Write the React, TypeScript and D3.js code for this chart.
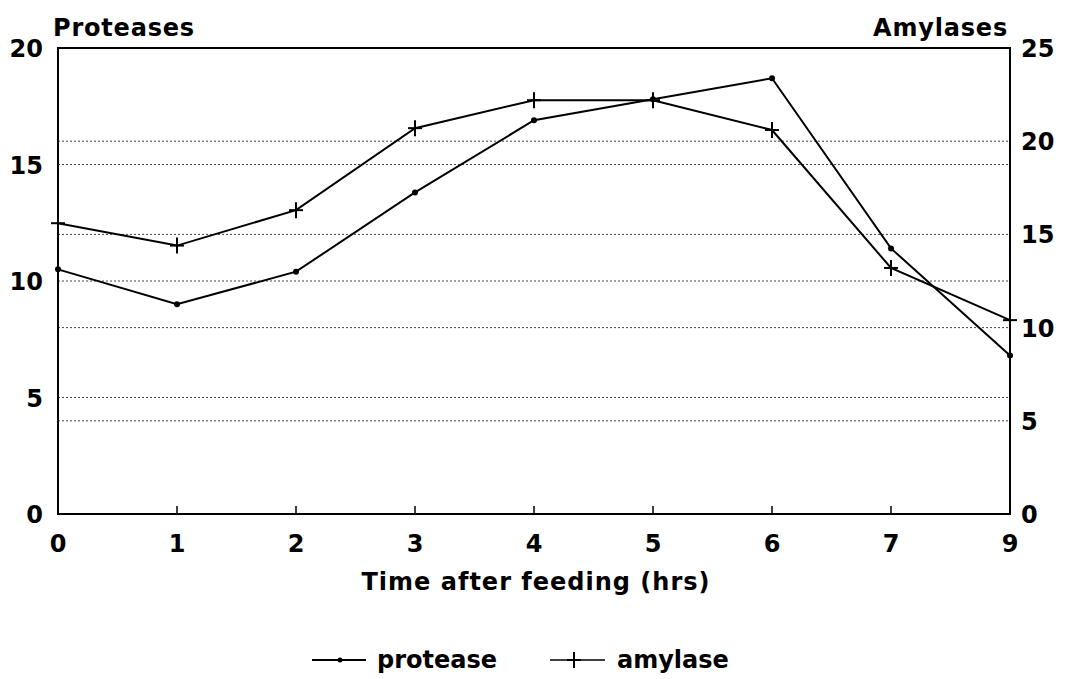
import React from "react";
import * as d3 from "d3";

const categories = ["0", "1", "2", "3", "4", "5", "6", "7", "9"];
const protease = [10.5, 9.0, 10.4, 13.8, 16.9, 17.8, 18.7, 11.4, 6.8];
const amylase = [15.6, 14.4, 16.3, 20.7, 22.2, 22.2, 20.6, 13.2, 10.4];
const leftTicks = [0, 5, 10, 15, 20];
const rightTicks = [0, 5, 10, 15, 20, 25];

const W = 1065;
const H = 679;
const M = { left: 58, right: 1010, top: 48, bottom: 514 };
const FONT = "'DejaVu Sans', 'Liberation Sans', Arial, sans-serif";

export default function App() {
  const x = d3.scalePoint<string>().domain(categories).range([M.left, M.right]);
  const yL = d3.scaleLinear().domain([0, 20]).range([M.bottom, M.top]);
  const yR = d3.scaleLinear().domain([0, 25]).range([M.bottom, M.top]);
  const lineL = d3
    .line<number>()
    .x((_, i) => x(categories[i]) as number)
    .y((d) => yL(d));
  const lineR = d3
    .line<number>()
    .x((_, i) => x(categories[i]) as number)
    .y((d) => yR(d));

  const plus = (cx: number, cy: number, k: string) => (
    <g key={k} stroke="#000" strokeWidth={2}>
      <line x1={cx - 7} x2={cx + 7} y1={cy} y2={cy} />
      <line x1={cx} x2={cx} y1={cy - 8} y2={cy + 8} />
    </g>
  );

  return (
    <svg
      width={W}
      height={H}
      style={{ position: "absolute", left: 0, top: 0, background: "#fff" }}
      fontFamily={FONT}
      fontWeight="bold"
    >
      {leftTicks
        .filter((t) => t > 0 && t < 20)
        .map((t) => (
          <line
            key={"gl" + t}
            x1={M.left}
            x2={M.right}
            y1={yL(t)}
            y2={yL(t)}
            stroke="#444"
            strokeWidth={1}
            strokeDasharray="2,2"
          />
        ))}
      {rightTicks
        .filter((t) => t > 0 && t < 25)
        .map((t) => (
          <line
            key={"gr" + t}
            x1={M.left}
            x2={M.right}
            y1={yR(t)}
            y2={yR(t)}
            stroke="#444"
            strokeWidth={1}
            strokeDasharray="2,2"
          />
        ))}
      <rect
        x={M.left}
        y={M.top}
        width={M.right - M.left}
        height={M.bottom - M.top}
        fill="none"
        stroke="#000"
        strokeWidth={2}
      />
      {categories.map((c) => (
        <g key={"xt" + c}>
          <line
            x1={x(c) as number}
            x2={x(c) as number}
            y1={M.bottom}
            y2={M.bottom - 8}
            stroke="#000"
            strokeWidth={1.5}
          />
          <text x={x(c) as number} y={M.bottom + 38} textAnchor="middle" fontSize={24}>
            {c}
          </text>
        </g>
      ))}
      {leftTicks.map((t) => (
        <text key={"lt" + t} x={M.left - 15} y={yL(t) + 9} textAnchor="end" fontSize={24}>
          {t}
        </text>
      ))}
      {rightTicks.map((t) => (
        <text key={"rt" + t} x={M.right + 11} y={yR(t) + 9} textAnchor="start" fontSize={24}>
          {t}
        </text>
      ))}
      <text x={53} y={36} fontSize={24} letterSpacing={0.8}>
        Proteases
      </text>
      <text x={1008} y={36} fontSize={24} letterSpacing={0.8} textAnchor="end">
        Amylases
      </text>
      <text x={536} y={590} fontSize={24} letterSpacing={1} textAnchor="middle">
        Time after feeding (hrs)
      </text>
      <path d={lineL(protease) || ""} fill="none" stroke="#000" strokeWidth={2} />
      <path d={lineR(amylase) || ""} fill="none" stroke="#000" strokeWidth={2} />
      {protease.map((v, i) => (
        <circle key={"p" + i} cx={x(categories[i]) as number} cy={yL(v)} r={3} fill="#000" />
      ))}
      {amylase.map((v, i) => plus(x(categories[i]) as number, yR(v), "a" + i))}
      <line x1={312} x2={366} y1={660} y2={660} stroke="#000" strokeWidth={2} />
      <circle cx={340} cy={660} r={2.5} fill="#000" />
      <text x={377} y={668} fontSize={24}>
        protease
      </text>
      <line x1={550} x2={605} y1={660} y2={660} stroke="#000" strokeWidth={1.5} />
      {plus(574, 660, "leg")}
      <text x={617} y={668} fontSize={24}>
        amylase
      </text>
    </svg>
  );
}
